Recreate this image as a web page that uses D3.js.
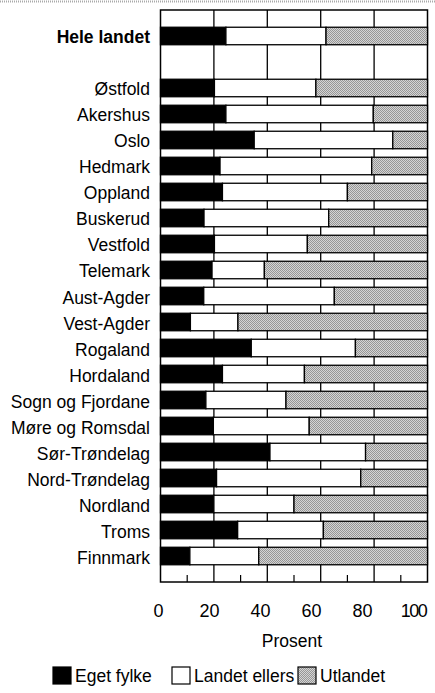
<!DOCTYPE html>
<html>
<head>
<meta charset="utf-8">
<script src="https://cdn.jsdelivr.net/npm/d3@7"></script>
<style>
  html, body { margin: 0; padding: 0; background: #fff; }
  svg { display: block; font-family: "Liberation Sans", Arial, Helvetica, sans-serif; }
</style>
</head>
<body>
<svg id="chart" width="435" height="693"></svg>
<script>
// ---- Data ----
const categories = ["Hele landet", "Østfold", "Akershus", "Oslo", "Hedmark", "Oppland",
  "Buskerud", "Vestfold", "Telemark", "Aust-Agder", "Vest-Agder", "Rogaland",
  "Hordaland", "Sogn og Fjordane", "Møre og Romsdal", "Sør-Trøndelag",
  "Nord-Trøndelag", "Nordland", "Troms", "Finnmark"];
const egetFylke = [24.5, 20.2, 24.5, 35.1, 22.3, 23.2, 16.3, 20.2, 19.3, 16.2, 11.2,
  34.0, 23.2, 17.0, 19.8, 41.0, 21.0, 20.0, 28.9, 11.0];
const landetEllers = [37.5, 38.0, 55.2, 51.9, 56.8, 46.8, 46.7, 34.8, 19.6, 48.9, 17.8,
  39.0, 30.7, 30.0, 35.9, 35.8, 54.0, 30.0, 32.1, 25.8];
const utlandet = [38.0, 41.8, 20.3, 13.0, 20.9, 30.0, 37.0, 45.0, 61.1, 34.9, 71.0,
  27.0, 46.1, 53.0, 44.3, 23.2, 25.0, 50.0, 39.0, 63.2];
const seriesNames = ["Eget fylke", "Landet ellers", "Utlandet"];
const tickValues = [0, 20, 40, 60, 80, 100];
const minorTicks = [10, 30, 50, 70, 90];
const axisTitle = "Prosent";

(function () {
// ---- Build table ----
const keys = ["eget", "landet", "utland"];
const table = categories.map((c, i) => ({
  cat: c, eget: egetFylke[i], landet: landetEllers[i], utland: utlandet[i]
}));
const stacked = d3.stack().keys(keys)(table);

const svg = d3.select("#chart");
const W = 435;
const pLeft = 160.5, pRight = 427.5, pTop = 10, pBottom = 582;

// gray checker pattern
const defs = svg.append("defs");
const pat = defs.append("pattern").attr("id", "dots")
  .attr("width", 2).attr("height", 2).attr("patternUnits", "userSpaceOnUse");
pat.append("rect").attr("width", 2).attr("height", 2).attr("fill", "#d4d4d4");
pat.append("rect").attr("width", 1).attr("height", 1).attr("fill", "#969696");
pat.append("rect").attr("x", 1).attr("y", 1).attr("width", 1).attr("height", 1).attr("fill", "#969696");

const fills = { eget: "#000", landet: "#fff", utland: "url(#dots)" };

// scan artifact line at top
svg.append("line").attr("x1", 0).attr("x2", W).attr("y1", 1.5).attr("y2", 1.5)
  .attr("stroke", "#aaa").attr("stroke-width", 2).attr("stroke-dasharray", "1,1");

const x = d3.scaleLinear().domain([0, 100]).range([pLeft, pRight]);
// label positions in the original are slightly compressed relative to the grid
const xLab = d3.scaleLinear().domain([0, 100]).range([158, 413]);
const rowKeys = [categories[0], "__gap__", ...categories.slice(1)];
const y = d3.scaleBand().domain(rowKeys).range([pTop, pBottom])
  .paddingInner(0.327).paddingOuter(0.663);

// grid lines
svg.append("g").selectAll("line").data(tickValues.slice(1, -1)).join("line")
  .attr("x1", d => x(d)).attr("x2", d => x(d))
  .attr("y1", pTop).attr("y2", pBottom)
  .attr("stroke", "#000").attr("stroke-width", 1.3);

// minor ticks
svg.append("g").selectAll("line").data(minorTicks).join("line")
  .attr("x1", d => x(d)).attr("x2", d => x(d))
  .attr("y1", pBottom - 7).attr("y2", pBottom)
  .attr("stroke", "#000").attr("stroke-width", 1.2);

// frame
svg.append("rect").attr("x", pLeft).attr("y", pTop)
  .attr("width", pRight - pLeft).attr("height", pBottom - pTop)
  .attr("fill", "none").attr("stroke", "#000").attr("stroke-width", 1.5);

// bars
svg.append("g").selectAll("g").data(stacked).join("g")
  .attr("fill", d => fills[d.key])
  .selectAll("rect").data(d => d).join("rect")
  .attr("x", d => x(d[0]))
  .attr("width", d => x(d[1]) - x(d[0]))
  .attr("y", d => y(d.data.cat))
  .attr("height", y.bandwidth())
  .attr("stroke", "#000").attr("stroke-width", 1.3);

// category labels
svg.append("g").selectAll("text").data(categories).join("text")
  .attr("x", pLeft - 10.5)
  .attr("y", d => y(d) + y.bandwidth() / 2 + 7.5)
  .attr("text-anchor", "end")
  .attr("font-size", 17.5)
  .attr("font-weight", (d, i) => i === 0 ? "bold" : "normal")
  .attr("fill", "#000")
  .text(d => d);

// x axis labels
const axis = d3.axisBottom(xLab).tickValues(tickValues).tickSize(0).tickPadding(0);
const gAxis = svg.append("g").attr("transform", `translate(0,${pBottom})`).call(axis);
gAxis.select(".domain").remove();
gAxis.selectAll("text")
  .attr("y", 34.5).attr("dy", 0)
  .attr("font-size", 18).attr("font-family", "Liberation Sans, Arial, sans-serif")
  .attr("fill", "#000")
  .attr("letter-spacing", d => d === 100 ? -1.5 : 0);

svg.append("text").attr("x", (pLeft + pRight) / 2 - 2).attr("y", 647)
  .attr("text-anchor", "middle").attr("font-size", 17.5).text(axisTitle);

// legend
const legendX = [53, 172, 298];
const lg = svg.append("g").selectAll("g").data(seriesNames).join("g")
  .attr("transform", (d, i) => `translate(${legendX[i]},667)`);
lg.append("rect").attr("width", 18).attr("height", 17)
  .attr("fill", (d, i) => fills[keys[i]])
  .attr("stroke", "#000").attr("stroke-width", 1.2);
lg.append("text").attr("x", 22).attr("y", 15)
  .attr("font-size", 17.5).text(d => d);
})();
</script>
</body>
</html>
